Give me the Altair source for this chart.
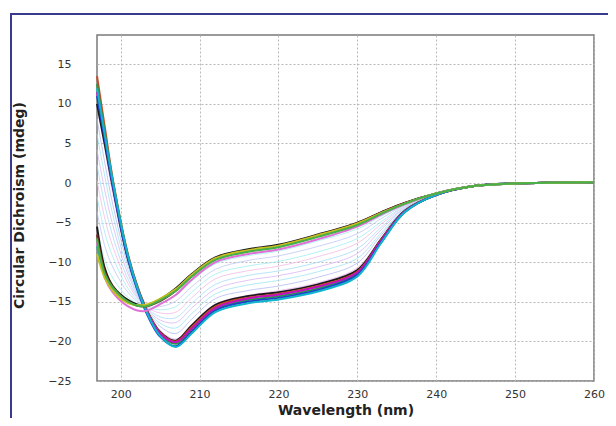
import altair as alt
import pandas as pd

# Wavelength grid (nm)
wavelength = [197, 198, 199, 201, 203, 205, 207, 209, 212, 216, 220, 225, 230, 233, 236, 240, 245, 250, 260]

# Bold spectra, native-like group (deep minimum near 207 nm)
A_blue    = [11.0, 5.5, -0.3, -9.8, -15.8, -19.4, -20.6, -18.8, -16.1, -15.0, -14.5, -13.5, -11.6, -7.5, -3.7, -1.5, -0.35, -0.05, 0.1]
A_cyan    = [12.0, 6.0, 0.2, -9.5, -15.6, -19.3, -20.7, -19.0, -16.3, -15.2, -14.7, -13.7, -11.8, -7.6, -3.7, -1.5, -0.35, -0.05, 0.1]
A_black   = [10.0, 4.8, -0.5, -9.9, -15.4, -18.8, -19.9, -18.0, -15.4, -14.3, -13.8, -12.8, -11.0, -7.1, -3.5, -1.5, -0.35, -0.05, 0.1]
A_magenta = [11.5, 5.8, -0.2, -9.6, -15.5, -19.0, -20.1, -18.4, -15.8, -14.6, -14.1, -13.1, -11.3, -7.3, -3.6, -1.5, -0.35, -0.05, 0.1]
A_red     = [13.5, 7.0, 0.5, -9.3, -15.3, -18.9, -20.0, -18.2, -15.6, -14.5, -14.0, -13.0, -11.2, -7.2, -3.6, -1.5, -0.35, -0.05, 0.1]
A_green   = [12.5, 6.3, 0.3, -9.4, -15.4, -19.1, -20.3, -18.6, -16.0, -14.8, -14.3, -13.3, -11.4, -7.4, -3.6, -1.5, -0.35, -0.05, 0.1]

# Bold spectra, unfolded-like group (minimum near 203 nm)
B_green   = [-7.0, -11.5, -13.2, -15.0, -15.6, -14.8, -13.6, -11.8, -9.7, -8.7, -8.1, -6.8, -5.3, -3.9, -2.6, -1.3, -0.35, -0.05, 0.1]
B_yellow  = [-9.0, -12.0, -13.6, -15.2, -15.4, -14.6, -13.4, -11.6, -9.5, -8.5, -7.9, -6.6, -5.1, -3.8, -2.6, -1.3, -0.35, -0.05, 0.1]
B_black   = [-5.5, -10.8, -13.0, -14.8, -15.5, -14.7, -13.3, -11.5, -9.4, -8.4, -7.8, -6.5, -5.0, -3.7, -2.5, -1.3, -0.35, -0.05, 0.1]
B_darkred = [-6.5, -11.2, -13.1, -15.0, -15.6, -14.9, -13.6, -11.8, -9.6, -8.6, -8.0, -6.6, -5.1, -3.7, -2.5, -1.3, -0.35, -0.05, 0.1]
B_pink    = [-7.5, -12.0, -13.8, -15.6, -16.2, -15.3, -14.1, -12.2, -10.0, -9.0, -8.4, -7.1, -5.5, -4.0, -2.7, -1.3, -0.35, -0.05, 0.1]
B_teal    = [-8.0, -11.8, -13.4, -15.1, -15.5, -14.7, -13.5, -11.7, -9.6, -8.6, -8.0, -6.7, -5.2, -3.8, -2.6, -1.3, -0.35, -0.05, 0.1]

# Thin intermediate spectra
T1 = [10.0, 4.3, -1.3, -10.1, -15.5, -18.6, -19.7, -17.9, -15.3, -14.2, -13.6, -12.6, -10.7, -7.0, -3.5, -1.5, -0.35, -0.05, 0.1]
T2 = [8.1, 2.5, -2.7, -10.6, -15.5, -18.1, -19.0, -17.2, -14.6, -13.6, -13.0, -11.9, -10.1, -6.6, -3.4, -1.5, -0.35, -0.05, 0.1]
T3 = [6.2, 0.8, -4.0, -11.2, -15.5, -17.7, -18.3, -16.5, -14.0, -12.9, -12.3, -11.2, -9.5, -6.3, -3.3, -1.4, -0.35, -0.05, 0.1]
T4 = [4.2, -1.0, -5.3, -11.7, -15.5, -17.3, -17.6, -15.8, -13.4, -12.3, -11.7, -10.6, -8.9, -5.9, -3.2, -1.4, -0.35, -0.05, 0.1]
T5 = [2.3, -2.8, -6.7, -12.3, -15.5, -16.9, -17.0, -15.2, -12.8, -11.7, -11.1, -10.0, -8.3, -5.6, -3.1, -1.4, -0.35, -0.05, 0.1]
T6 = [0.3, -4.5, -8.0, -12.8, -15.5, -16.4, -16.3, -14.5, -12.1, -11.1, -10.5, -9.3, -7.6, -5.2, -3.0, -1.4, -0.35, -0.05, 0.1]
T7 = [-1.7, -6.3, -9.3, -13.4, -15.5, -16.0, -15.6, -13.8, -11.5, -10.5, -9.9, -8.7, -7.0, -4.9, -2.9, -1.4, -0.35, -0.05, 0.1]
T8 = [-3.6, -8.0, -10.6, -13.9, -15.5, -15.6, -14.9, -13.1, -10.9, -9.8, -9.2, -8.0, -6.4, -4.5, -2.8, -1.3, -0.35, -0.05, 0.1]
T9 = [-5.6, -9.8, -12.0, -14.5, -15.5, -15.1, -14.2, -12.4, -10.2, -9.2, -8.6, -7.3, -5.8, -4.2, -2.7, -1.3, -0.35, -0.05, 0.1]

thin_series = [T1, T2, T3, T4, T5, T6, T7, T8, T9]
thin_colors = ["#e8a8f0", "#b0b8f0", "#98e4f0", "#d8b4f4", "#a0dcf8", "#f0b8e4", "#9cecf0", "#bcc4f4", "#98f0ec"]

# drawn bottom -> top
bold_series = [A_black, A_red, A_green, A_magenta, A_blue, A_cyan,
               B_black, B_darkred, B_pink, B_teal, B_yellow, B_green]
bold_colors = ["#1a1a1a", "#c84a28", "#20a040", "#c010c0", "#2040c8", "#10b4cc",
               "#1a1a1a", "#7a2a20", "#e070d8", "#40a8a0", "#c8c020", "#48b048"]

x_scale = alt.Scale(domain=[197, 260], nice=False, zero=False)
y_scale = alt.Scale(domain=[-25, 18.7], nice=False, zero=False)
x_axis = alt.Axis(values=[200, 210, 220, 230, 240, 250, 260], title="Wavelength (nm)",
                  labelPadding=7, titleY=22, labelFlush=False)
y_axis = alt.Axis(values=[-25, -20, -15, -10, -5, 0, 5, 10, 15],
                  title="Circular Dichroism (mdeg)",
                  labelPadding=26, titleX=-71, titleY=170)


def curve_layer(vals, color, width, opacity):
    df = pd.DataFrame({"wl": wavelength, "cd": vals})
    return alt.Chart(df).mark_line(interpolate="catmull-rom", strokeWidth=width,
                                   opacity=opacity, color=color).encode(
        x=alt.X("wl:Q", scale=x_scale, axis=x_axis),
        y=alt.Y("cd:Q", scale=y_scale, axis=y_axis),
    )


layers = []
frame = alt.Chart(pd.DataFrame({"a": [0]})).mark_rect(filled=False, stroke="#3a3a8c", strokeWidth=2).encode(
    x=alt.value(-86), x2=alt.value(700), y=alt.value(-21), y2=alt.value(700)
)
layers.append(frame)
for vals, col in zip(thin_series, thin_colors):
    layers.append(curve_layer(vals, col, 0.9, 0.85))
for vals, col in zip(bold_series, bold_colors):
    layers.append(curve_layer(vals, col, 2.0, 1.0))

chart = alt.layer(*layers).properties(
    width=497, height=346,
    autosize=alt.AutoSizeParams(type="none"),
    padding={"left": 89, "top": 27, "right": 14, "bottom": 37},
    background="white",
).configure_view(
    stroke="#7a7a7a", strokeWidth=1.5, fill="white"
).configure_axis(
    grid=True, gridColor="#b8b8b8", gridDash=[2, 2], gridWidth=1,
    domain=False, ticks=False,
    labelFont="DejaVu Sans", labelFontSize=11, labelColor="#333333",
    titleFont="DejaVu Sans", titleFontSize=14, titleFontWeight="bold", titleColor="#222222",
)

chart.save("out.html", embed_options={"renderer": "svg", "actions": False})
